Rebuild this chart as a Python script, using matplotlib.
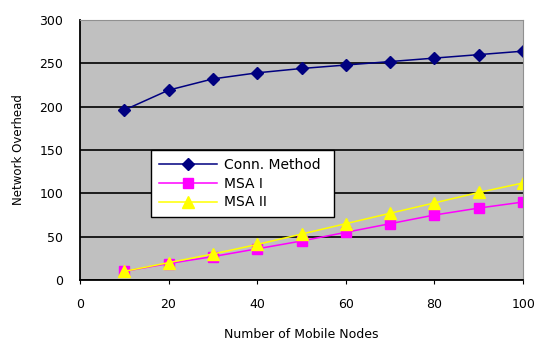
import matplotlib
matplotlib.use("Agg")
from matplotlib import pyplot as plt

nodes = [10, 20, 30, 40, 50, 60, 70, 80, 90, 100]
conn_method = [196, 219, 232, 239, 244, 248, 252, 256, 260, 264]
msa_1 = [10, 19, 27, 36, 45, 55, 65, 75, 83, 90]
msa_2 = [10, 20, 30, 41, 53, 65, 77, 89, 101, 112]

fig = plt.figure(figsize=(5.36, 3.44), dpi=100)
ax = fig.add_axes([0.149, 0.186, 0.827, 0.756])
ax.set_facecolor("#c0c0c0")

ax.plot(nodes, conn_method, color="#000080", lw=1.1, marker="D", ms=6,
        label="Conn. Method")
ax.plot(nodes, msa_1, color="#ff00ff", lw=1.1, marker="s", ms=6.5,
        label="MSA I")
ax.plot(nodes, msa_2, color="#ffff00", lw=1.1, marker="^", ms=8,
        label="MSA II")

ax.set_xlim(0, 100)
ax.set_ylim(0, 300)
ax.set_xticks(range(0, 101, 20))
ax.set_yticks(range(0, 301, 50))
ax.yaxis.grid(True, color="black", lw=1.2)
ax.set_axisbelow(True)

for s in ["top", "right"]:
    ax.spines[s].set_color("#909090")
for s in ["left", "bottom"]:
    ax.spines[s].set_linewidth(1.3)

ax.tick_params(axis="y", length=0, pad=12, labelsize=9)
ax.tick_params(axis="x", direction="out", length=3, pad=10, labelsize=9)

ax.set_xlabel("Number of Mobile Nodes", fontsize=9, labelpad=12)
ax.set_ylabel("Network Overhead", fontsize=8.5, labelpad=10)

# legend box spans a fixed region of the figure
leg = ax.legend(loc="upper left",
                bbox_to_anchor=(151 / 536, 1 - 150 / 344, 183 / 536, 0),
                bbox_transform=fig.transFigure, borderaxespad=0,
                mode="expand", fancybox=False, framealpha=1,
                edgecolor="black", fontsize=10, handlelength=4.2,
                handletextpad=0.5, borderpad=0.55, labelspacing=0.35)
leg.get_frame().set_linewidth(1.0)

fig.savefig("out.png", dpi=100)
